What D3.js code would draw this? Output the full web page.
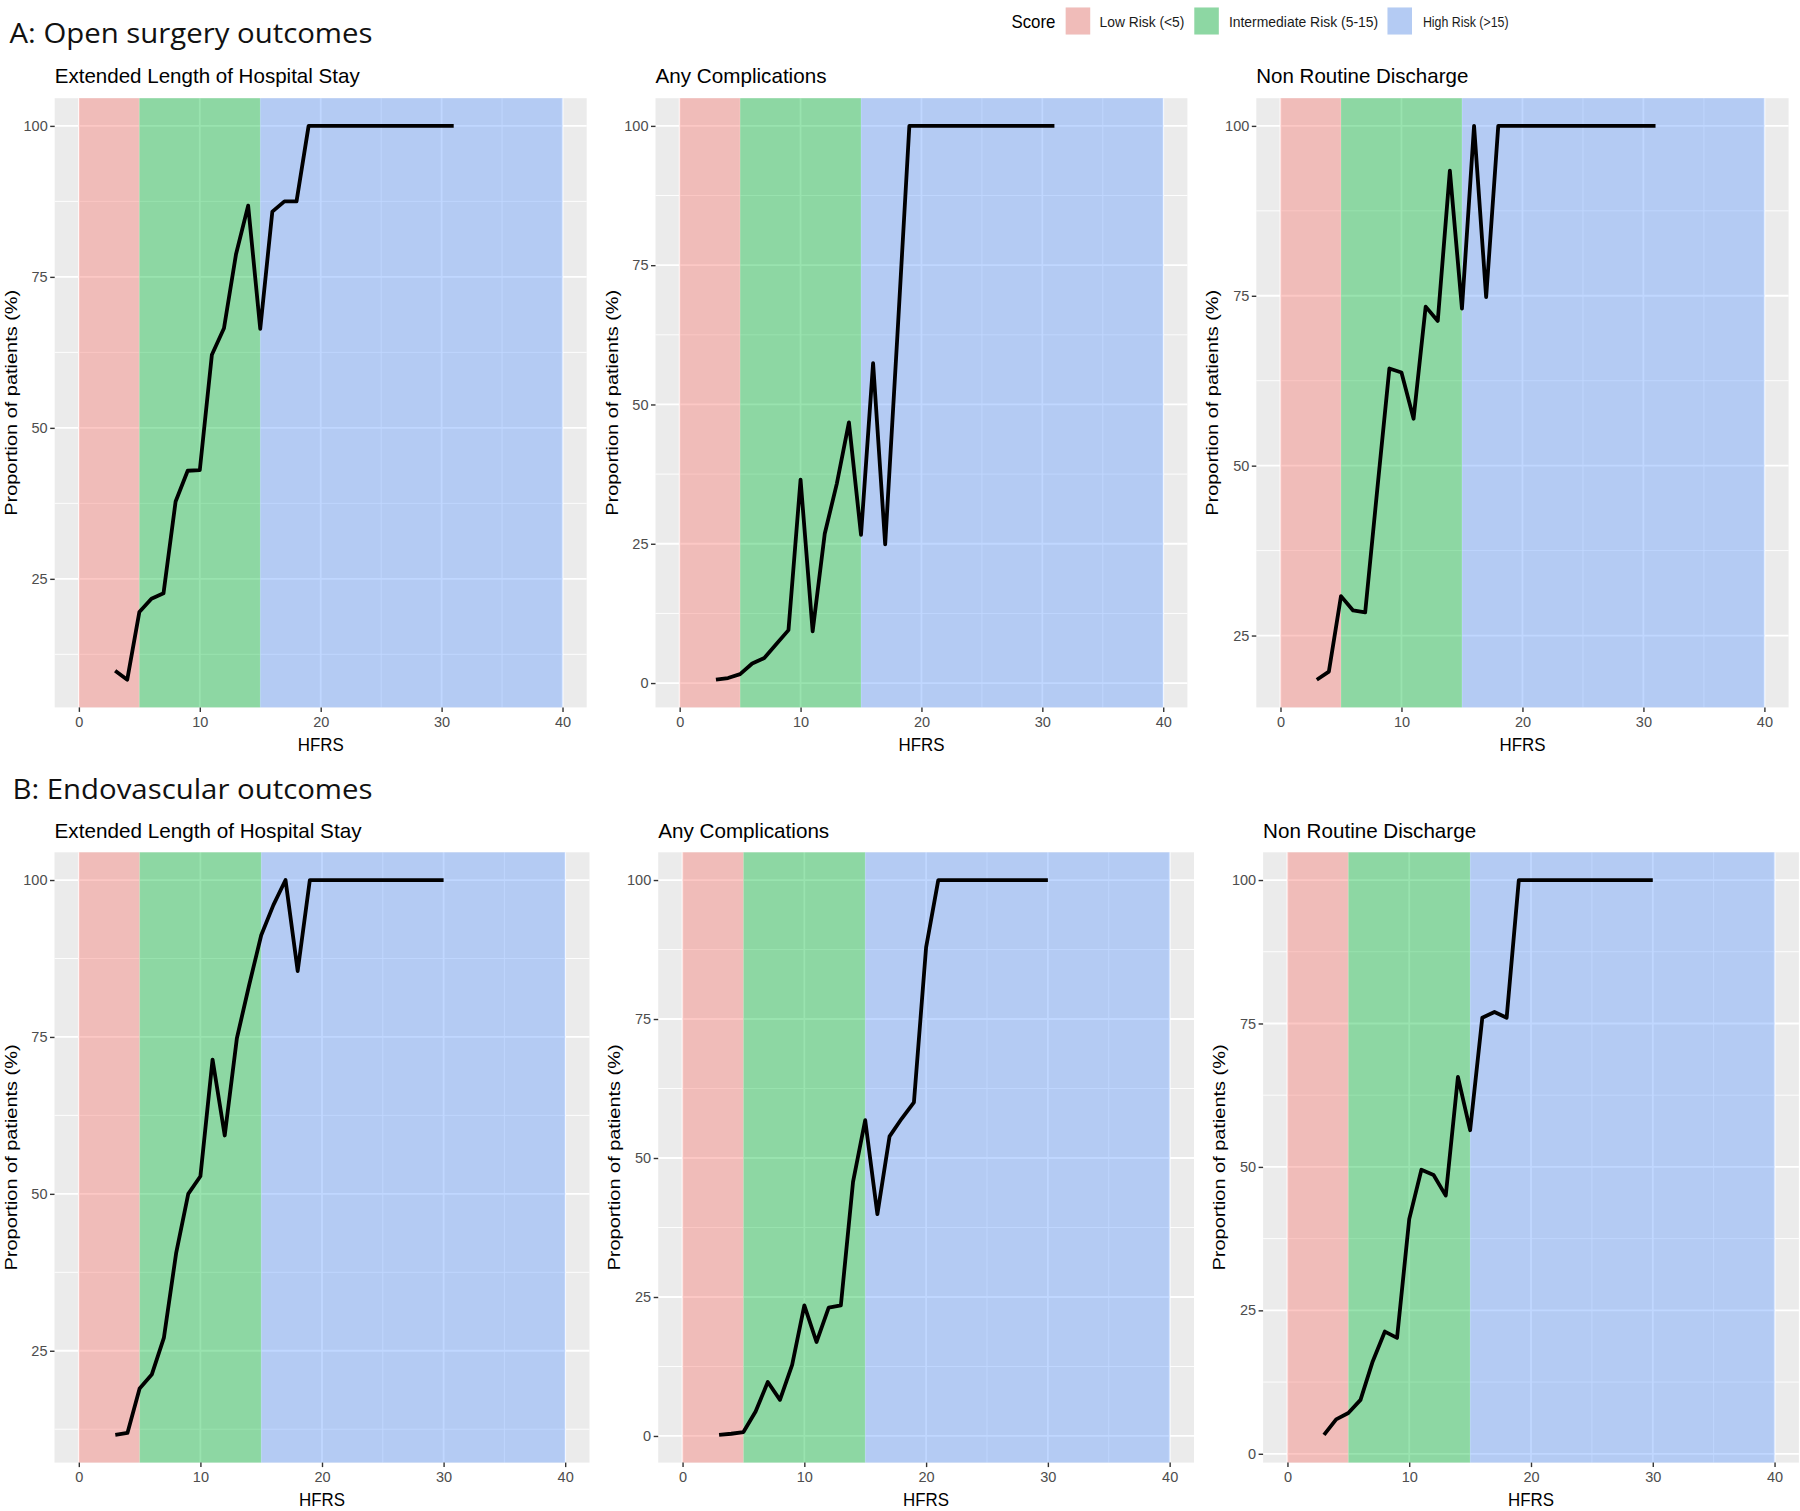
<!DOCTYPE html>
<html>
<head>
<meta charset="utf-8">
<script src="https://cdn.jsdelivr.net/npm/d3@7"></script>
<style>
  html, body { margin: 0; padding: 0; background: #ffffff; }
  svg { display: block; }
</style>
</head>
<body>
<svg id="chart" width="1800" height="1511"></svg>
<script>
// ---------------- DATA ----------------
const hfrsOpen = [3,4,5,6,7,8,9,10,11,12,13,14,15,16,17,18,19,20,21,22,23,24,25,26,27,28,29,30,31];
const hfrsEndo = [3,4,5,6,7,8,9,10,11,12,13,14,15,16,17,18,19,20,21,22,23,24,25,26,27,28,29,30];

const openLOS = [9.8, 8.3, 19.5, 21.7, 22.6, 37.8, 42.9, 43.0, 62.1, 66.5, 78.8, 86.8, 66.4, 85.8, 87.5, 87.5, 100,
                 100, 100, 100, 100, 100, 100, 100, 100, 100, 100, 100, 100];
const openComp = [0.6, 0.9, 1.6, 3.5, 4.5, 7.0, 9.5, 36.5, 9.3, 26.8, 35.8, 46.8, 26.6, 57.4, 24.9, 62.0, 100,
                  100, 100, 100, 100, 100, 100, 100, 100, 100, 100, 100, 100];
const openNRD = [18.5, 19.7, 30.8, 28.7, 28.4, 46.5, 64.3, 63.7, 56.9, 73.4, 71.3, 93.4, 73.1, 100, 74.8, 100, 100,
                 100, 100, 100, 100, 100, 100, 100, 100, 100, 100, 100, 100];

const endoLOS = [11.6, 11.9, 19.0, 21.2, 27.1, 40.5, 50.0, 52.8, 71.4, 59.3, 74.8, 83.2, 91.2, 96.0, 100, 85.5, 100,
                 100, 100, 100, 100, 100, 100, 100, 100, 100, 100, 100];
const endoComp = [0.2, 0.4, 0.7, 4.4, 9.7, 6.5, 12.8, 23.5, 16.9, 23.1, 23.5, 45.7, 56.8, 39.9, 53.9, 57.1, 60.0, 87.9, 100,
                  100, 100, 100, 100, 100, 100, 100, 100, 100];
const endoNRD = [3.3, 6.0, 7.1, 9.4, 16.1, 21.3, 20.2, 40.9, 49.5, 48.6, 45.0, 65.7, 56.4, 76.0, 77.0, 76.0, 100,
                 100, 100, 100, 100, 100, 100, 100, 100, 100, 100, 100];

const panelTitles = ["Extended Length of Hospital Stay", "Any Complications", "Non Routine Discharge"];
const sectionTitles = ["A: Open surgery outcomes", "B: Endovascular outcomes"];

const bandLabels = ["Low Risk (<5)", "Intermediate Risk (5-15)", "High Risk (>15)"];
const bandStart = [0, 5, 15];
const bandEnd = [5, 15, 40];
const bandColors = ["#F8766D", "#00BA38", "#619CFF"];

const xTicks = [0, 10, 20, 30, 40];
const xMinor = [5, 15, 25, 35];
const yTicks = [0, 25, 50, 75, 100];
const yMinor = [12.5, 37.5, 62.5, 87.5];

const xTitle = "HFRS";
const yTitle = "Proportion of patients (%)";
const legendTitle = "Score";

// ---------------- LAYOUT ----------------
const rows = [
  { top: 98.2, bottom: 707.4, titleY: 42.7, titleX: 9.5, titleLen: 363, subY: 83.3 },
  { top: 852.3, bottom: 1462.6, titleY: 799, titleX: 12.5, titleLen: 360, subY: 838.3 }
];
const panels = [
  { row: 0, title: 0, xs: hfrsOpen, ys: openLOS,  left: 54.7,  right: 586.7,  subLen: 305 },
  { row: 0, title: 1, xs: hfrsOpen, ys: openComp, left: 655.5, right: 1187.4, subLen: 171 },
  { row: 0, title: 2, xs: hfrsOpen, ys: openNRD,  left: 1256.3, right: 1788.6, subLen: 212 },
  { row: 1, title: 0, xs: hfrsEndo, ys: endoLOS,  left: 54.5,  right: 589.5,  subLen: 307 },
  { row: 1, title: 1, xs: hfrsEndo, ys: endoComp, left: 658.2, right: 1194.0, subLen: 171 },
  { row: 1, title: 2, xs: hfrsEndo, ys: endoNRD,  left: 1263.1, right: 1798.9, subLen: 213 }
];

const svg = d3.select("#chart");
const FONT = "'Liberation Sans', Arial, Helvetica, sans-serif";
const GREY_BG = "#EBEBEB";

// section titles
rows.forEach((r, i) => {
  svg.append("text")
    .attr("x", r.titleX).attr("y", r.titleY)
    .attr("font-family", "'Open Sans', 'Noto Sans', sans-serif")
    .attr("font-size", 28)
    .attr("fill", "#111")
    .attr("textLength", r.titleLen)
    .attr("lengthAdjust", "spacingAndGlyphs")
    .text(sectionTitles[i]);
});

// panels
panels.forEach(p => {
  const r = rows[p.row];
  const g = svg.append("g");

  const xExt = [d3.min(bandStart), d3.max(bandEnd)];
  const xPad = (xExt[1] - xExt[0]) * 0.05;
  const x = d3.scaleLinear().domain([xExt[0] - xPad, xExt[1] + xPad]).range([p.left, p.right]);

  const yExt = d3.extent(p.ys);
  const yPad = (yExt[1] - yExt[0]) * 0.05;
  const yDom = [yExt[0] - yPad, yExt[1] + yPad];
  const y = d3.scaleLinear().domain(yDom).range([r.bottom, r.top]);

  const inY = v => v >= yDom[0] && v <= yDom[1];

  // background
  g.append("rect")
    .attr("x", p.left).attr("y", r.top)
    .attr("width", p.right - p.left).attr("height", r.bottom - r.top)
    .attr("fill", GREY_BG);

  // minor grid
  g.selectAll(".xminor").data(xMinor).join("line")
    .attr("x1", d => x(d)).attr("x2", d => x(d))
    .attr("y1", r.top).attr("y2", r.bottom)
    .attr("stroke", "#fff").attr("stroke-width", 0.9);
  g.selectAll(".yminor").data(yMinor.filter(inY)).join("line")
    .attr("x1", p.left).attr("x2", p.right)
    .attr("y1", d => y(d)).attr("y2", d => y(d))
    .attr("stroke", "#fff").attr("stroke-width", 0.9);
  // major grid
  g.selectAll(".xmajor").data(xTicks).join("line")
    .attr("x1", d => x(d)).attr("x2", d => x(d))
    .attr("y1", r.top).attr("y2", r.bottom)
    .attr("stroke", "#fff").attr("stroke-width", 1.8);
  g.selectAll(".ymajor").data(yTicks.filter(inY)).join("line")
    .attr("x1", p.left).attr("x2", p.right)
    .attr("y1", d => y(d)).attr("y2", d => y(d))
    .attr("stroke", "#fff").attr("stroke-width", 1.8);

  // risk bands
  g.selectAll(".band").data(bandStart).join("rect")
    .attr("x", (d, i) => x(d))
    .attr("width", (d, i) => x(bandEnd[i]) - x(d))
    .attr("y", r.top).attr("height", r.bottom - r.top)
    .attr("fill", (d, i) => bandColors[i])
    .attr("fill-opacity", 0.4);

  // line
  const pts = p.xs.map((v, i) => [v, p.ys[i]]);
  g.append("path")
    .datum(pts)
    .attr("d", d3.line().x(d => x(d[0])).y(d => y(d[1])))
    .attr("fill", "none")
    .attr("stroke", "#000")
    .attr("stroke-width", 3.8)
    .attr("stroke-linejoin", "round")
    .attr("stroke-linecap", "butt");

  // axes
  const yAxis = d3.axisLeft(y).tickValues(yTicks.filter(inY)).tickSize(4.5).tickPadding(2.5).tickFormat(d3.format("d"));
  const ya = g.append("g").attr("transform", `translate(${p.left},0)`).call(yAxis);
  const xAxis = d3.axisBottom(x).tickValues(xTicks).tickSize(4.5).tickPadding(3).tickFormat(d3.format("d"));
  const xa = g.append("g").attr("transform", `translate(0,${r.bottom})`).call(xAxis);
  [ya, xa].forEach(a => {
    a.select(".domain").remove();
    a.selectAll(".tick line").attr("stroke", "#333").attr("stroke-width", 1.4);
    a.selectAll(".tick text")
      .attr("fill", "#4D4D4D")
      .attr("font-family", FONT)
      .attr("font-size", 14.5);
  });
  xa.selectAll(".tick text").attr("dy", "0.85em");

  // subtitle
  g.append("text")
    .attr("x", p.left).attr("y", r.subY)
    .attr("font-family", FONT).attr("font-size", 21)
    .attr("fill", "#000")
    .attr("textLength", p.subLen).attr("lengthAdjust", "spacingAndGlyphs")
    .text(panelTitles[p.title]);

  // x title
  g.append("text")
    .attr("x", (p.left + p.right) / 2).attr("y", r.bottom + 43.5)
    .attr("text-anchor", "middle")
    .attr("font-family", FONT).attr("font-size", 18)
    .attr("fill", "#000")
    .attr("textLength", 46).attr("lengthAdjust", "spacingAndGlyphs")
    .text(xTitle);

  // y title
  const cy = (r.top + r.bottom) / 2;
  const cx = p.left - 44;
  g.append("text")
    .attr("transform", `translate(${cx},${cy}) rotate(-90)`)
    .attr("text-anchor", "middle")
    .attr("dominant-baseline", "central")
    .attr("font-family", FONT).attr("font-size", 16.5)
    .attr("fill", "#000")
    .attr("textLength", 226).attr("lengthAdjust", "spacingAndGlyphs")
    .text(yTitle);
});

// legend
const lg = svg.append("g");
lg.append("text")
  .attr("x", 1011.4).attr("y", 28.3)
  .attr("font-family", FONT).attr("font-size", 18.5)
  .attr("fill", "#000")
  .attr("textLength", 44).attr("lengthAdjust", "spacingAndGlyphs")
  .text(legendTitle);
const keyX = [1065.7, 1194.3, 1387.5];
const labX = [1099.6, 1228.9, 1422.9];
const labLen = [84.7, 149.3, 85.7];
bandLabels.forEach((lab, i) => {
  lg.append("rect").attr("x", keyX[i]).attr("y", 7.5).attr("width", 24.5).attr("height", 27)
    .attr("fill", GREY_BG);
  lg.append("rect").attr("x", keyX[i]).attr("y", 7.5).attr("width", 24.5).attr("height", 27)
    .attr("fill", bandColors[i]).attr("fill-opacity", 0.4);
  lg.append("text")
    .attr("x", labX[i]).attr("y", 27.3)
    .attr("font-family", FONT).attr("font-size", 15)
    .attr("fill", "#1A1A1A")
    .attr("textLength", labLen[i]).attr("lengthAdjust", "spacingAndGlyphs")
    .text(lab);
});
</script>
</body>
</html>
